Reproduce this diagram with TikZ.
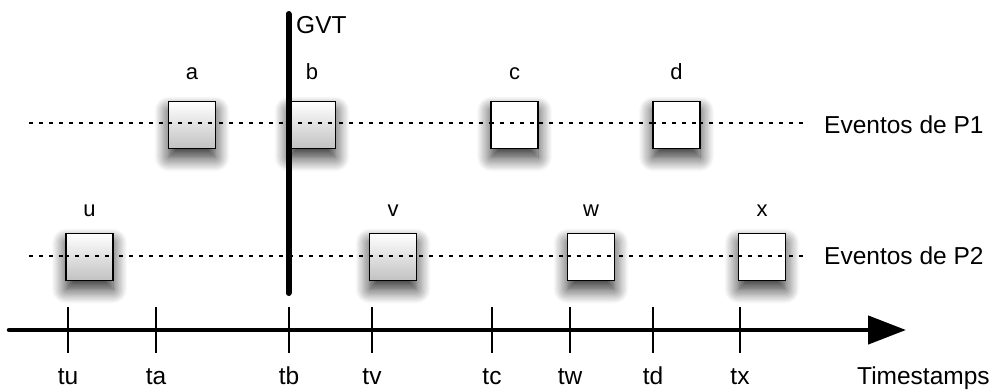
\documentclass[tikz,border=0pt]{standalone}
\usepackage{fontspec}
\setmainfont{Liberation Sans}
\usetikzlibrary{arrows.meta,shadows.blur}

\tikzset{
  evbox/.style={draw=black, line width=1.6pt, minimum width=47pt, minimum height=47pt,
    inner sep=0pt,
    blur shadow={shadow xshift=0pt, shadow yshift=-9pt, shadow blur radius=14pt,
      shadow blur steps=12, shadow opacity=85}},
  pastev/.style={evbox, top color=white, bottom color=black!24},
  futev/.style={evbox, fill=white},
  evlabel/.style={anchor=base, inner sep=0pt, font=\fontsize{22}{26}\selectfont},
  biglabel/.style={inner sep=0pt, font=\fontsize{24.5}{29}\selectfont},
  timeline/.style={line width=2pt, dash pattern=on 4pt off 6pt},
  tick/.style={line width=2pt},
}

\begin{document}
\begin{tikzpicture}[x=1pt, y=-1pt]
  \useasboundingbox (0,0) rectangle (997,389);

  % process timelines
  \coordinate (l1s) at (29,123);  \coordinate (l1e) at (803,123);
  \coordinate (l2s) at (29,256);  \coordinate (l2e) at (803,256);
  \draw[timeline] (l1s) -- (l1e);
  \draw[timeline] (l2s) -- (l2e);

  % events of P1
  \node[pastev] (a) at (192,125) {};
  \node[pastev] (b) at (312,125) {};
  \node[futev]  (c) at (514.5,125) {};
  \node[futev]  (d) at (676.5,125) {};
  % events of P2
  \node[pastev] (u) at (89.5,257) {};
  \node[pastev] (v) at (393,257) {};
  \node[futev]  (w) at (591,257) {};
  \node[futev]  (x) at (762,257) {};

  % redraw dotted lines across boxes
  \draw[timeline] (a.west |- l1s) -- (a.east |- l1s);
  \draw[timeline] (b.west |- l1s) -- (b.east |- l1s);
  \draw[timeline] (c.west |- l1s) -- (c.east |- l1s);
  \draw[timeline] (d.west |- l1s) -- (d.east |- l1s);
  \draw[timeline] (u.west |- l2s) -- (u.east |- l2s);
  \draw[timeline] (v.west |- l2s) -- (v.east |- l2s);
  \draw[timeline] (w.west |- l2s) -- (w.east |- l2s);
  \draw[timeline] (x.west |- l2s) -- (x.east |- l2s);

  % event names
  \node[evlabel] (la) at (192,79) {a};
  \node[evlabel] (lb) at (312,79) {b};
  \node[evlabel] (lc) at (514.5,79) {c};
  \node[evlabel] (ld) at (676.5,79) {d};
  \node[evlabel] (lu) at (89.5,216) {u};
  \node[evlabel] (lv) at (393,216) {v};
  \node[evlabel] (lw) at (591,216) {w};
  \node[evlabel] (lx) at (762,216) {x};

  % process names
  \node[biglabel, anchor=base west] (p1) at (824,133) {Eventos de P1};
  \node[biglabel, anchor=base west] (p2) at (824,264) {Eventos de P2};

  % GVT line
  \coordinate (gtop) at (288.5,14);
  \coordinate (gbot) at (288.5,293);
  \draw[line width=6pt, line cap=round] (gtop) -- (gbot);
  \node[biglabel, anchor=base west] (gvt) at (296,33) {GVT};

  % time axis
  \coordinate (axs) at (9,330);
  \coordinate (axe) at (906,330);
  \draw[line width=4.5pt, line cap=round, -{Triangle[length=38pt,width=28pt]}] (axs) -- (axe);

  % ticks and timestamps
  \foreach \t/\xx in {tu/68, ta/156, tb/289, tv/372, tc/492, tw/570, td/653, tx/740}{
    \coordinate (\t-top) at (\xx,307);
    \coordinate (\t-bot) at (\xx,353);
    \draw[tick] (\t-top) -- (\t-bot);
    \node[biglabel, anchor=base] (\t) at (\xx,384) {\t};
  }
  \node[biglabel, anchor=base west] (ts) at (857,384) {Timestamps};
\end{tikzpicture}
\end{document}
